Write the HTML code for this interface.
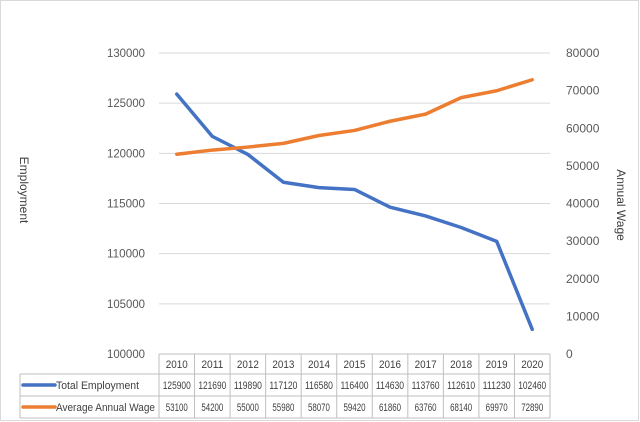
<!DOCTYPE html>
<html><head><meta charset="utf-8"><style>
body{margin:0;background:#fff;}
svg{display:block;font-family:"Liberation Sans",sans-serif;}
</style></head><body>
<svg id="chart" width="640" height="422" viewBox="0 0 640 422">
<rect x="0.5" y="0.5" width="638" height="420" fill="#fff" stroke="#d9d9d9"/>
<g id="grid"></g>
<g id="laxis"></g>
<g id="raxis"></g>
<text transform="translate(20,190) rotate(90)" text-anchor="middle" font-size="12" fill="#404040">Employment</text>
<text transform="translate(617,205) rotate(90)" text-anchor="middle" font-size="12" fill="#404040">Annual Wage</text>
<g id="series"></g>
<g id="table"></g>
</svg>
<script>
const categories=["2010","2011","2012","2013","2014","2015","2016","2017","2018","2019","2020"];
const employment=[125900,121690,119890,117120,116580,116400,114630,113760,112610,111230,102460];
const wage=[53100,54200,55000,55980,58070,59420,61860,63760,68140,69970,72890];
const leftTicks=[100000,105000,110000,115000,120000,125000,130000];
const rightTicks=[0,10000,20000,30000,40000,50000,60000,70000,80000];
const NS="http://www.w3.org/2000/svg";
const X0=159,X1=550,YT=53,YB=354;
const colW=(X1-X0)/categories.length;
const x=i=>X0+colW*(i+0.5);
const yL=v=>YB-(v-100000)/30000*(YB-YT);
const yR=v=>YB-v/80000*(YB-YT);
function mk(tag,attrs,parent,txt){const e=document.createElementNS(NS,tag);for(const k in attrs)e.setAttribute(k,attrs[k]);if(txt!==undefined)e.textContent=txt;parent.appendChild(e);return e;}
const grid=document.getElementById('grid'),la=document.getElementById('laxis'),ra=document.getElementById('raxis');
leftTicks.forEach(t=>{
  if(t>100000){const l=mk('line',{x1:X0,x2:X1,y1:yL(t),y2:yL(t),stroke:'#d9d9d9'},grid);
  
  }
  const tx=mk('text',{x:145,y:yL(t)+4,'text-anchor':'end','font-size':'12',textLength:'38',lengthAdjust:'spacingAndGlyphs',fill:'#595959'},la,String(t));
  
  
});
rightTicks.forEach(t=>{
  const tx=mk('text',{x:566,y:yR(t)+4,'font-size':'12',fill:'#595959'},ra,String(t));
  
  
});
const s=document.getElementById('series');
const p1=mk('polyline',{points:employment.map((v,i)=>x(i)+','+yL(v)).join(' '),fill:'none',stroke:'#4472c4','stroke-width':'3.5','stroke-linejoin':'round','stroke-linecap':'round'},s);


const p2=mk('polyline',{points:wage.map((v,i)=>x(i)+','+yR(v)).join(' '),fill:'none',stroke:'#ed7d31','stroke-width':'3.5','stroke-linejoin':'round','stroke-linecap':'round'},s);


const tb=document.getElementById('table');
const rows=[354,374,396,418];
const st='#bfbfbf';
mk('line',{x1:X0,x2:X1,y1:rows[0],y2:rows[0],stroke:st},tb);
mk('line',{x1:20,x2:X1,y1:rows[1],y2:rows[1],stroke:st},tb);
mk('line',{x1:20,x2:X1,y1:rows[2],y2:rows[2],stroke:st},tb);
mk('line',{x1:20,x2:X1,y1:rows[3],y2:rows[3],stroke:st},tb);
mk('line',{x1:20,x2:20,y1:rows[1],y2:rows[3],stroke:st},tb);
for(let i=0;i<=categories.length;i++){mk('line',{x1:X0+colW*i,x2:X0+colW*i,y1:rows[0],y2:rows[3],stroke:st},tb);}
categories.forEach((c,i)=>{
  const t=mk('text',{x:x(i)-11,y:368,'font-size':'11',textLength:'22',lengthAdjust:'spacingAndGlyphs',fill:'#404040'},tb,c);
  
  
  const a=mk('text',{x:x(i)-14,y:389,'font-size':'11',textLength:'28',lengthAdjust:'spacingAndGlyphs',fill:'#404040'},tb,String(employment[i]));
  
  
  const b=mk('text',{x:x(i)-11,y:411,'font-size':'11',textLength:'22',lengthAdjust:'spacingAndGlyphs',fill:'#404040'},tb,String(wage[i]));
  
  
});
mk('line',{x1:23,x2:55,y1:385,y2:385,stroke:'#4472c4','stroke-width':'3.5','stroke-linecap':'round'},tb);
mk('line',{x1:23,x2:55,y1:407,y2:407,stroke:'#ed7d31','stroke-width':'3.5','stroke-linecap':'round'},tb);
const l1=mk('text',{x:56,y:389,'font-size':'11',textLength:'83',lengthAdjust:'spacingAndGlyphs',fill:'#404040'},tb,'Total Employment');


const l2=mk('text',{x:56,y:411,'font-size':'11',textLength:'99',lengthAdjust:'spacingAndGlyphs',fill:'#404040'},tb,'Average Annual Wage');


</script>
</body></html>
